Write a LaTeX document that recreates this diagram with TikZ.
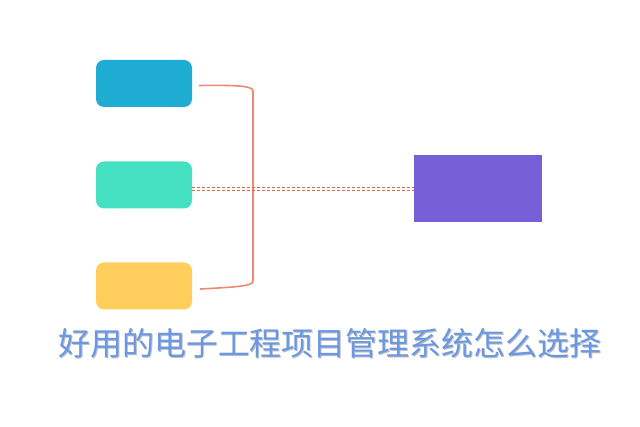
\documentclass[tikz,border=0pt]{standalone}
\usepackage{fontspec}
\newfontfamily\cjk{Noto Sans CJK SC}
\definecolor{cblue}{HTML}{1FACD3}
\definecolor{cteal}{HTML}{45E0C2}
\definecolor{cyellow}{HTML}{FFCE5C}
\definecolor{cpurple}{HTML}{775FD8}
\definecolor{csalmon}{HTML}{EE8A72}
\definecolor{cdash}{HTML}{D8684E}
\definecolor{ctitle}{HTML}{6A98E2}
\begin{document}
\begin{tikzpicture}[x=1pt,y=1pt,
  rbox/.style={rounded corners=8pt,minimum width=96pt,minimum height=47pt,inner sep=0pt,draw=none},
  dline/.style={cdash,line width=0.9pt,dash pattern=on 3pt off 2pt},
  bracketline/.style={csalmon,line width=1.6pt}]
\useasboundingbox (0,0) rectangle (640,427);
\fill[white] (0,0) rectangle (640,427);
\node[rbox,fill=cblue] (b1) at (144,343.5) {};
\node[rbox,fill=cteal] (b2) at (144,242) {};
\node[rbox,fill=cyellow] (b3) at (144,141) {};
\node[minimum width=128pt,minimum height=67pt,inner sep=0pt,fill=cpurple] (p) at (478,238.5) {};
\coordinate (t1) at ([xshift=7pt,yshift=-2pt]b1.east);
\coordinate (t3) at ([xshift=8pt,yshift=-3pt]b3.east);
\draw[bracketline] (t1) .. controls (238,342) and (253,341) .. (253,336) -- (253,146) .. controls (253,141) and (238,140) .. (t3);
\draw[dline] ([yshift=-2.5pt]b2.east) -- ([yshift=-2.5pt]b2.east -| p.west);
\draw[dline] ([yshift=-5pt]b2.east) -- ([yshift=-5pt]b2.east -| p.west);
\node[text=black!25,font=\cjk\fontsize{32}{36}\selectfont] at (331,83) {好用的电子工程项目管理系统怎么选择};
\node[text=ctitle,font=\cjk\fontsize{32}{36}\selectfont] (title) at (330,84) {好用的电子工程项目管理系统怎么选择};
\end{tikzpicture}
\end{document}
